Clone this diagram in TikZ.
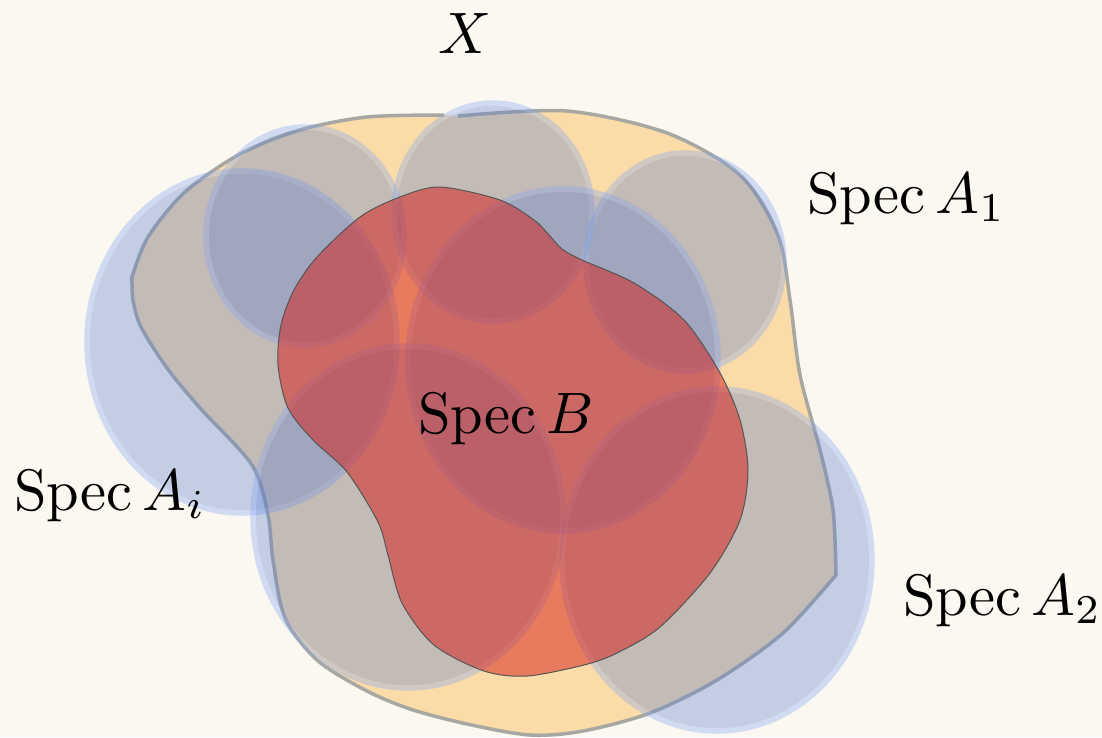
\documentclass[tikz,border=0pt]{standalone}
\usepackage{amsmath}
\definecolor{bgc}{RGB}{251,248,241}
\definecolor{xfill}{RGB}{251,220,168}
\definecolor{xline}{RGB}{168,168,162}
\definecolor{cfill}{RGB}{93,127,206}
\definecolor{cring}{RGB}{130,165,245}
\definecolor{bfill}{RGB}{215,25,20}
\definecolor{bline}{RGB}{85,85,85}
\tikzset{
  patch/.style={fill=cfill, draw=cring, line width=5.5pt},
  lbl/.style={anchor=base west, inner sep=0pt, scale=5.85},
  xpath/.style={insert path={
    -- plot[smooth] coordinates {(458,116) (567,111) (667,133) (740,175) (778,235) (790,300) (800,375) (820,450) (833,510) (836,575)}
    -- plot[smooth] coordinates {(836,575) (783,633) (717,680) (650,713) (583,731) (530,735) (467,724) (410,709) (365,690) (317,660) (285,618) (273,560) (268,515) (252,465) (200,408) (167,368) (141,327) (133,300) (132,277)}
    -- plot[smooth] coordinates {(132,277) (148,237) (185,192) (240,154) (300,130) (367,117) (444,115)}}},
}
\newcommand{\patchat}[3]{%
  \begin{scope}[transparency group, opacity=0.35]
    \path[patch] (#1) ellipse [x radius=#2, y radius=#3];
  \end{scope}}
\begin{document}
\begin{tikzpicture}[x=1pt,y=-1pt]
\fill[bgc] (0,0) rectangle (1102,737);
\useasboundingbox (0,0) rectangle (1102,737);
% X region
\fill[xfill] (458,116) [xpath] -- cycle;
\draw[xline, line width=3.5pt, line join=round] (458,116) [xpath];
% open patches
\coordinate (ci) at (242,342);
\coordinate (ctl) at (305,236);
\coordinate (ctop) at (493,212);
\coordinate (ctr) at (685,262);
\coordinate (cc) at (563,360);
\coordinate (cbl) at (408,517);
\coordinate (cbr) at (717,560);
\patchat{ci}{155}{171}
\patchat{ctl}{99}{109}
\patchat{ctop}{99}{109}
\patchat{ctr}{99}{109}
\patchat{cc}{155}{171}
\patchat{cbl}{155}{171}
\patchat{cbr}{155}{171}
% Spec B
\path[fill=bfill, fill opacity=0.5, draw=bline, line width=1pt]
  plot[smooth cycle] coordinates {(440,187) (500,200) (534,220) (549,235) (562,249) (582,260) (634,283) (684,320) (720,373) (740,420) (748,470) (740,520) (710,573) (660,627) (617,653) (584,665) (527,676) (484,671) (434,645) (402,603) (388,555) (378,522) (347,472) (313,440) (288,408) (278,365) (281,325) (294,290) (317,257) (360,217) (400,197)};
% labels
\node[lbl] (lx) at (437,53) {$X$};
\node[lbl] (l1) at (806,213) {$\operatorname{Spec} A_1$};
\node[lbl] (lb) at (417,433) {$\operatorname{Spec} B$};
\node[lbl] (li) at (13,510) {$\operatorname{Spec} A_i$};
\node[lbl] (l2) at (902,615) {$\operatorname{Spec} A_2$};
\end{tikzpicture}
\end{document}
